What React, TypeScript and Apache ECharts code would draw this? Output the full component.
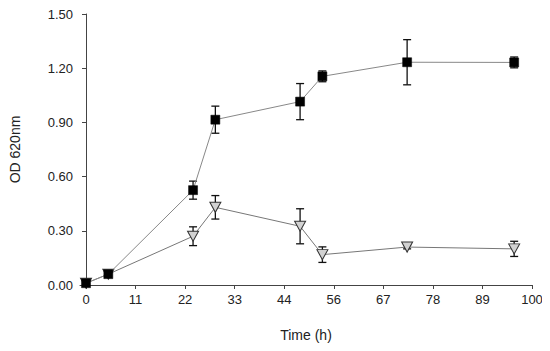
import React, { useEffect, useRef } from "react";
import * as echarts from "echarts";

const xTickValues = [0, 11.11, 22.22, 33.33, 44.44, 55.56, 66.67, 77.78, 88.89, 100];
const timeH = [0, 5, 24, 29, 48, 53, 72, 96];
const squareMean = [0.01, 0.06, 0.525, 0.915, 1.015, 1.155, 1.233, 1.232];
const squareErr = [0, 0, 0.05, 0.075, 0.1, 0.03, 0.125, 0.03];
const triMean = [0.01, 0.06, 0.27, 0.43, 0.325, 0.168, 0.21, 0.2];
const triErr = [0, 0, 0.052, 0.065, 0.097, 0.043, 0.01, 0.042];

const errData = (mean: number[], err: number[]) =>
  timeH
    .map((t, i) => [t, mean[i] - err[i], mean[i] + err[i]])
    .filter((_, i) => err[i] > 0);

const renderErr = (params: any, api: any) => {
  const x = api.value(0);
  const lo = api.coord([x, api.value(1)]);
  const hi = api.coord([x, api.value(2)]);
  const cap = 4;
  const style = { stroke: "#111", lineWidth: 1.3 };
  return {
    type: "group",
    children: [
      { type: "line", shape: { x1: lo[0], y1: lo[1], x2: hi[0], y2: hi[1] }, style },
      { type: "line", shape: { x1: lo[0] - cap, y1: lo[1], x2: lo[0] + cap, y2: lo[1] }, style },
      { type: "line", shape: { x1: hi[0] - cap, y1: hi[1], x2: hi[0] + cap, y2: hi[1] }, style },
    ],
  };
};

export default function App() {
  const ref = useRef<HTMLDivElement>(null);
  useEffect(() => {
    const chart = echarts.init(ref.current!, null, { renderer: "svg" });
    const font = "'Liberation Sans', Arial, sans-serif";
    chart.setOption({
      animation: false,
      backgroundColor: "#fff",
      textStyle: { fontFamily: font },
      grid: { left: 80, right: 18, top: 14, bottom: 66, containLabel: false },
      xAxis: {
        type: "value",
        min: -1.35,
        max: 100,
        name: "Time (h)",
        nameLocation: "middle",
        nameGap: 43,
        nameTextStyle: { fontSize: 14, color: "#222", fontFamily: font },
        axisLine: { lineStyle: { color: "#444", width: 1 } },
        axisTick: { customValues: xTickValues, length: 4, lineStyle: { color: "#444" } },
        axisLabel: {
          customValues: xTickValues,
          formatter: (v: number) => String(Math.round(v)),
          fontSize: 13,
          color: "#222",
          margin: 8,
          fontFamily: font,
        },
        splitLine: { show: false },
      },
      yAxis: {
        type: "value",
        min: 0,
        max: 1.5,
        interval: 0.3,
        name: "OD 620nm",
        nameLocation: "middle",
        nameGap: 58,
        nameTextStyle: { fontSize: 14, color: "#222", fontFamily: font },
        axisLine: { show: true, lineStyle: { color: "#444", width: 1 } },
        axisTick: { show: true, length: 4, lineStyle: { color: "#444" } },
        axisLabel: {
          formatter: (v: number) => v.toFixed(2),
          fontSize: 13,
          color: "#222",
          margin: 7,
          fontFamily: font,
        },
        splitLine: { show: false },
      },
      series: [
        {
          type: "custom",
          renderItem: renderErr,
          data: errData(triMean, triErr),
          encode: { x: 0, y: [1, 2] },
          z: 1,
          silent: true,
        },
        {
          type: "custom",
          renderItem: renderErr,
          data: errData(squareMean, squareErr),
          encode: { x: 0, y: [1, 2] },
          z: 1,
          silent: true,
        },
        {
          type: "line",
          data: timeH.map((t, i) => [t, triMean[i]]),
          symbol: "path://M0,0 L10,0 L5,10 Z",
          symbolSize: [11, 10],
          itemStyle: { color: "#d2d2d2", borderColor: "#333", borderWidth: 1 },
          lineStyle: { color: "#777", width: 1 },
          z: 3,
        },
        {
          type: "line",
          data: timeH.map((t, i) => [t, squareMean[i]]),
          symbol: "rect",
          symbolSize: 9,
          itemStyle: { color: "#000", borderColor: "#000", borderWidth: 0.5 },
          lineStyle: { color: "#888", width: 1 },
          z: 4,
        },
      ],
    });
    return () => chart.dispose();
  }, []);
  return <div ref={ref} style={{ width: 550, height: 351, margin: -8 }} />;
}
